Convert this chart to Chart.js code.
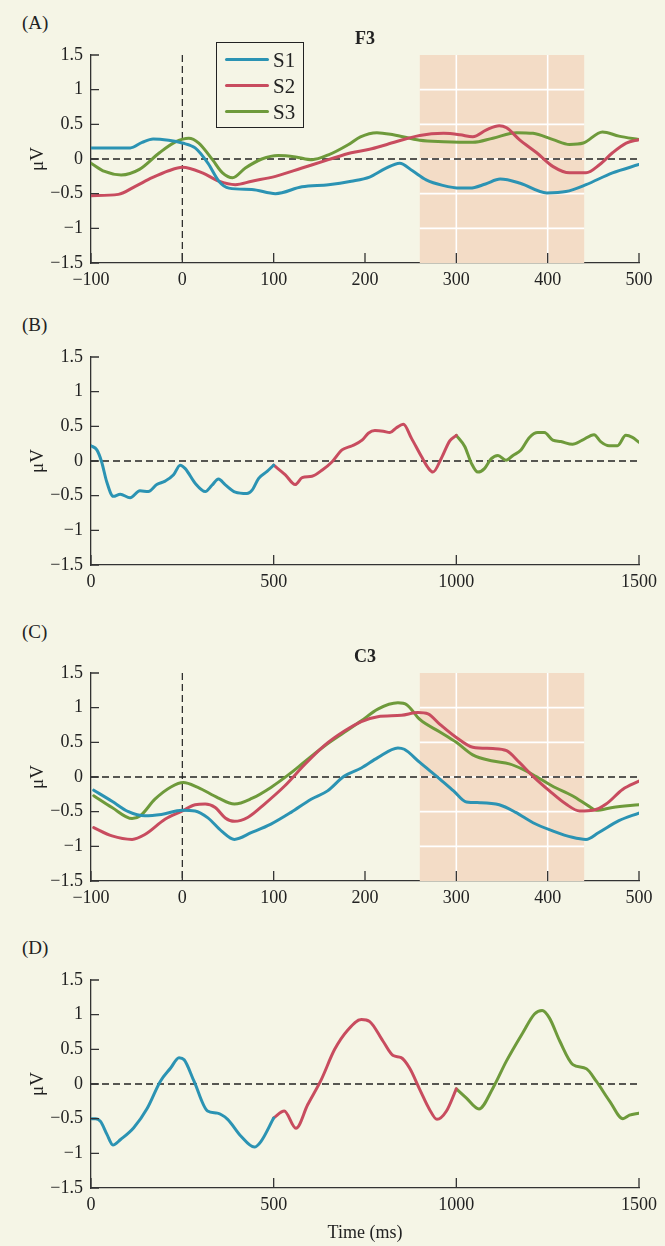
<!DOCTYPE html>
<html>
<head>
<meta charset="utf-8">
<script src="https://cdn.jsdelivr.net/npm/chart.js@4.4.1/dist/chart.umd.min.js"></script>
<style>
  body { margin: 0; background: #f5f5e6; font-family: 'Liberation Serif', 'DejaVu Serif', serif; color: #222; }
  #page { position: relative; width: 665px; height: 1246px; overflow: hidden; }
  #page canvas { position: absolute; left: 0; }
  .tag { position: absolute; left: 22px; font-size: 19px; line-height: 22px; }
  #legendA { position: absolute; left: 216px; top: 42px; width: 88px; height: 86px;
             border: 1.3px solid #222; box-sizing: border-box; z-index: 2; }
  #legendA .row { position: absolute; left: 0; width: 100%; height: 24px; }
  #legendA .swatch { position: absolute; left: 8px; top: 10px; width: 44px; height: 3px; border-radius: 2px; }
  #legendA .lbl { position: absolute; left: 56px; top: 0; font-size: 21px; line-height: 24px; }
</style>
</head>
<body>
<div id="page">
  <div class="tag" style="top:12px">(A)</div>
  <div class="tag" style="top:314px">(B)</div>
  <div class="tag" style="top:621px">(C)</div>
  <div class="tag" style="top:937px">(D)</div>
  <div id="legendA"></div>
  <canvas id="chartA" width="665" height="300" style="top:0px"></canvas>
  <canvas id="chartB" width="665" height="300" style="top:300px"></canvas>
  <canvas id="chartC" width="665" height="310" style="top:600px"></canvas>
  <canvas id="chartD" width="665" height="336" style="top:910px"></canvas>
</div>
<script>
// (A) F3, -100..500 ms
const aT1 = [-100, -57, -44, -32, -15, 0, 14, 28, 40, 51, 76, 102, 131, 160, 185, 205, 222, 238, 252, 267, 285, 304, 315, 332, 348, 370, 399, 420, 442, 471, 500];
const aS1 = [0.16, 0.16, 0.24, 0.29, 0.27, 0.23, 0.16, -0.06, -0.32, -0.42, -0.44, -0.50, -0.40, -0.37, -0.32, -0.26, -0.14, -0.06, -0.17, -0.30, -0.38, -0.42, -0.42, -0.36, -0.29, -0.35, -0.49, -0.47, -0.37, -0.20, -0.08];
const aT2 = [-100, -70, -51, -33, -15, 0, 22, 40, 58, 76, 102, 131, 160, 185, 205, 224, 260, 286, 304, 318, 333, 347, 355, 369, 388, 406, 424, 442, 457, 471, 486, 500];
const aS2 = [-0.53, -0.51, -0.39, -0.27, -0.17, -0.12, -0.20, -0.32, -0.37, -0.32, -0.25, -0.13, -0.01, 0.09, 0.14, 0.21, 0.34, 0.37, 0.35, 0.32, 0.42, 0.48, 0.45, 0.28, 0.09, -0.11, -0.20, -0.20, -0.08, 0.09, 0.23, 0.28];
const aT3 = [-100, -85, -67, -47, -25, -7, 7, 18, 33, 44, 55, 69, 87, 105, 124, 142, 160, 182, 195, 213, 231, 260, 286, 318, 340, 366, 384, 406, 424, 439, 460, 478, 500];
const aS3 = [-0.06, -0.18, -0.23, -0.15, 0.09, 0.25, 0.30, 0.23, -0.01, -0.20, -0.27, -0.13, 0.00, 0.05, 0.03, -0.01, 0.06, 0.21, 0.32, 0.38, 0.35, 0.27, 0.25, 0.24, 0.30, 0.38, 0.37, 0.28, 0.21, 0.23, 0.39, 0.33, 0.28];

// (B) F3 concatenated, 0..1500 ms
const bT1 = [0, 16, 29, 43, 61, 80, 107, 134, 157, 180, 203, 226, 244, 258, 285, 313, 331, 349, 367, 395, 427, 441, 459, 482, 500];
const bS1 = [0.22, 0.16, -0.01, -0.30, -0.51, -0.48, -0.53, -0.43, -0.44, -0.34, -0.29, -0.20, -0.06, -0.11, -0.32, -0.44, -0.35, -0.26, -0.34, -0.45, -0.47, -0.42, -0.25, -0.15, -0.06];
const bT2 = [500, 532, 559, 578, 605, 633, 660, 687, 715, 742, 759, 777, 800, 818, 836, 855, 877, 905, 923, 936, 959, 982, 1000];
const bS2 = [-0.06, -0.20, -0.34, -0.24, -0.22, -0.13, -0.01, 0.16, 0.22, 0.30, 0.40, 0.44, 0.43, 0.41, 0.48, 0.53, 0.33, 0.06, -0.10, -0.16, 0.04, 0.29, 0.37];
const bT3 = [1000, 1023, 1041, 1059, 1077, 1095, 1114, 1136, 1155, 1177, 1200, 1223, 1241, 1264, 1286, 1318, 1345, 1377, 1395, 1418, 1441, 1464, 1482, 1500];
const bS3 = [0.37, 0.21, -0.03, -0.16, -0.11, 0.03, 0.08, 0.01, 0.08, 0.16, 0.34, 0.41, 0.41, 0.30, 0.28, 0.24, 0.30, 0.38, 0.28, 0.22, 0.22, 0.37, 0.34, 0.27];

// (C) C3, -100..500 ms
const cT1 = [-97, -77, -59, -41, -23, 0, 14, 28, 43, 57, 76, 97, 119, 141, 159, 177, 196, 214, 236, 243, 260, 282, 297, 311, 326, 347, 365, 384, 406, 427, 442, 456, 478, 500];
const cS1 = [-0.19, -0.35, -0.50, -0.56, -0.54, -0.48, -0.49, -0.59, -0.78, -0.90, -0.80, -0.68, -0.51, -0.32, -0.20, 0.01, 0.13, 0.28, 0.42, 0.40, 0.21, -0.03, -0.20, -0.36, -0.37, -0.40, -0.51, -0.66, -0.78, -0.87, -0.90, -0.80, -0.63, -0.52];
const cT2 = [-97, -77, -55, -41, -19, 0, 14, 25, 36, 47, 57, 72, 90, 112, 134, 156, 177, 196, 214, 240, 258, 269, 282, 300, 318, 340, 355, 369, 384, 402, 420, 435, 450, 464, 482, 500];
const cS2 = [-0.73, -0.85, -0.90, -0.83, -0.61, -0.49, -0.40, -0.39, -0.44, -0.59, -0.64, -0.58, -0.39, -0.13, 0.18, 0.46, 0.66, 0.80, 0.87, 0.89, 0.93, 0.91, 0.76, 0.57, 0.43, 0.41, 0.38, 0.21, 0.01, -0.20, -0.39, -0.49, -0.48, -0.39, -0.18, -0.06];
const cT3 = [-97, -77, -55, -46, -30, -12, 1, 17, 39, 57, 76, 97, 116, 134, 156, 177, 196, 214, 236, 246, 260, 282, 300, 318, 340, 358, 373, 387, 405, 427, 445, 453, 471, 500];
const cS3 = [-0.27, -0.44, -0.60, -0.56, -0.32, -0.14, -0.08, -0.15, -0.30, -0.39, -0.31, -0.15, 0.03, 0.22, 0.45, 0.64, 0.81, 0.98, 1.07, 1.04, 0.83, 0.65, 0.50, 0.32, 0.23, 0.19, 0.11, 0.01, -0.13, -0.27, -0.42, -0.48, -0.44, -0.40];

// (D) C3 concatenated, 0..1500 ms
const dT1 = [0, 12, 26, 44, 60, 81, 117, 154, 190, 218, 241, 255, 282, 319, 346, 374, 410, 447, 465, 500];
const dS1 = [-0.50, -0.50, -0.54, -0.73, -0.88, -0.80, -0.63, -0.35, 0.04, 0.23, 0.38, 0.35, 0.04, -0.39, -0.42, -0.51, -0.75, -0.91, -0.83, -0.49];
const dT2 = [500, 529, 561, 593, 630, 667, 703, 740, 763, 799, 827, 849, 872, 900, 927, 947, 973, 1000];
const dS2 = [-0.49, -0.39, -0.64, -0.30, 0.06, 0.50, 0.78, 0.93, 0.90, 0.62, 0.41, 0.38, 0.23, -0.08, -0.37, -0.51, -0.39, -0.07];
const dT3 = [1000, 1027, 1062, 1100, 1137, 1182, 1214, 1235, 1255, 1283, 1319, 1356, 1383, 1420, 1456, 1474, 1500];
const dS3 = [-0.07, -0.20, -0.36, -0.06, 0.33, 0.74, 1.01, 1.06, 0.95, 0.62, 0.28, 0.22, 0.04, -0.25, -0.50, -0.45, -0.42];

const seriesNames = ['S1', 'S2', 'S3'];
const yTicks = [-1.5, -1, -0.5, 0, 0.5, 1, 1.5];
const windowMs = [260, 440];

const colS = { S1: '#2b93b3', S2: '#c84c5f', S3: '#6e9a3b' };
const ink = '#222';
const shadeCol = '#f3dcc6';
const fontFam = "'Liberation Serif', 'DejaVu Serif', serif";

Chart.defaults.font.family = fontFam;
Chart.defaults.color = ink;

const zip = (t, v) => t.map((x, i) => ({ x: x, y: v[i] }));
const minus = v => (v < 0 ? '\u2212' + Math.abs(v) : String(v));

// shaded window, zero line, onset line, inward ticks
const decor = {
  id: 'decor',
  beforeDatasetsDraw(chart, args, opts) {
    const { ctx, chartArea: a, scales: { x, y } } = chart;
    ctx.save();
    if (opts.shade) {
      const x0 = x.getPixelForValue(opts.shade[0]);
      const x1 = x.getPixelForValue(opts.shade[1]);
      ctx.fillStyle = shadeCol;
      ctx.fillRect(x0, a.top, x1 - x0, a.bottom - a.top);
      ctx.strokeStyle = '#ffffff';
      ctx.lineWidth = 1.6;
      ctx.beginPath();
      x.ticks.forEach(t => {
        const px = x.getPixelForValue(t.value);
        if (px > x0 + 1 && px < x1 - 1) { ctx.moveTo(px, a.top); ctx.lineTo(px, a.bottom); }
      });
      y.ticks.forEach(t => {
        const py = y.getPixelForValue(t.value);
        if (py > a.top + 1 && py < a.bottom - 1) { ctx.moveTo(x0, py); ctx.lineTo(x1, py); }
      });
      ctx.stroke();
    }
    ctx.strokeStyle = ink;
    ctx.lineWidth = 1.4;
    ctx.setLineDash([7, 4]);
    const y0 = y.getPixelForValue(0);
    ctx.beginPath();
    ctx.moveTo(a.left, y0);
    ctx.lineTo(a.right, y0);
    ctx.stroke();
    if (opts.onset) {
      const px = x.getPixelForValue(0);
      ctx.lineWidth = 1.2;
      ctx.beginPath();
      ctx.moveTo(px, a.top);
      ctx.lineTo(px, a.bottom);
      ctx.stroke();
    }
    ctx.restore();
  },
  afterDraw(chart) {
    const { ctx, chartArea: a, scales: { x, y } } = chart;
    ctx.save();
    ctx.strokeStyle = '#333';
    ctx.lineWidth = 1.3;
    ctx.beginPath();
    y.ticks.forEach(t => {
      const py = y.getPixelForValue(t.value);
      ctx.moveTo(a.left, py);
      ctx.lineTo(a.left + 8, py);
    });
    x.ticks.forEach(t => {
      const px = x.getPixelForValue(t.value);
      ctx.moveTo(px, a.bottom);
      ctx.lineTo(px, a.bottom - 10);
    });
    ctx.stroke();
    ctx.restore();
  }
};
Chart.register(decor);

function makePanel(id, cfg) {
  return new Chart(document.getElementById(id), {
    type: 'line',
    data: {
      datasets: cfg.series.map(s => ({
        label: s.name,
        data: zip(s.t, s.v),
        borderColor: colS[s.name],
        backgroundColor: colS[s.name],
        borderWidth: 3,
        pointRadius: 0,
        cubicInterpolationMode: 'monotone',
        borderCapStyle: 'round',
        borderJoinStyle: 'round',
        fill: false
      }))
    },
    options: {
      responsive: false,
      animation: false,
      events: [],
      layout: { padding: { left: 0, right: 26, top: cfg.padTop, bottom: 0 } },
      plugins: {
        legend: { display: false },
        tooltip: { enabled: false },
        title: {
          display: !!cfg.title,
          text: cfg.title || '',
          fullSize: false,
          font: { size: 18, weight: 'bold' },
          color: ink,
          padding: { top: 0, bottom: 5.2 }
        },
        decor: { shade: cfg.shade, onset: cfg.onset }
      },
      scales: {
        x: {
          type: 'linear',
          min: cfg.xMin,
          max: cfg.xMax,
          grid: { drawOnChartArea: false, drawTicks: false },
          border: { color: '#333', width: 1.3 },
          ticks: {
            stepSize: cfg.xStep,
            padding: 6,
            maxRotation: 0,
            autoSkip: false,
            font: { size: 18 },
            color: ink,
            callback: v => minus(v)
          },
          title: {
            display: !!cfg.xTitle,
            text: cfg.xTitle || '',
            font: { size: 18 },
            color: ink,
            padding: { top: 0, bottom: 2 }
          },
          afterFit(s) { s.height = cfg.xHeight; }
        },
        y: {
          min: -1.5,
          max: 1.5,
          grid: { drawOnChartArea: false, drawTicks: false },
          border: { color: '#333', width: 1.3 },
          afterBuildTicks(s) { s.ticks = yTicks.map(v => ({ value: v })); },
          ticks: {
            padding: 8,
            font: { size: 18 },
            color: ink,
            callback: v => minus(v)
          },
          title: {
            display: true,
            text: 'μV',
            font: { size: 19 },
            color: ink,
            padding: { top: 27, bottom: 0 }
          },
          afterFit(s) { s.width = 91; }
        }
      }
    }
  });
}

const chartA = makePanel('chartA', {
  title: 'F3', padTop: 28.2, xHeight: 37, xMin: -100, xMax: 500, xStep: 100,
  shade: windowMs, onset: true,
  series: [
    { name: seriesNames[0], t: aT1, v: aS1 },
    { name: seriesNames[1], t: aT2, v: aS2 },
    { name: seriesNames[2], t: aT3, v: aS3 }
  ]
});

makePanel('chartB', {
  padTop: 57, xHeight: 35, xMin: 0, xMax: 1500, xStep: 500,
  series: [
    { name: seriesNames[0], t: bT1, v: bS1 },
    { name: seriesNames[1], t: bT2, v: bS2 },
    { name: seriesNames[2], t: bT3, v: bS3 }
  ]
});

makePanel('chartC', {
  title: 'C3', padTop: 46.2, xHeight: 29, xMin: -100, xMax: 500, xStep: 100,
  shade: windowMs, onset: true,
  series: [
    { name: seriesNames[0], t: cT1, v: cS1 },
    { name: seriesNames[1], t: cT2, v: cS2 },
    { name: seriesNames[2], t: cT3, v: cS3 }
  ]
});

makePanel('chartD', {
  padTop: 70, xHeight: 58, xMin: 0, xMax: 1500, xStep: 500, xTitle: 'Time (ms)',
  series: [
    { name: seriesNames[0], t: dT1, v: dS1 },
    { name: seriesNames[1], t: dT2, v: dS2 },
    { name: seriesNames[2], t: dT3, v: dS3 }
  ]
});

// legend box for panel A, built from the chart's datasets
const legendA = document.getElementById('legendA');
chartA.data.datasets.forEach((ds, i) => {
  const row = document.createElement('div');
  row.className = 'row';
  row.style.top = (5 + i * 26) + 'px';
  row.innerHTML = '<span class="swatch" style="background:' + ds.borderColor + '"></span>' +
                  '<span class="lbl">' + ds.label + '</span>';
  legendA.appendChild(row);
});
</script>
</body>
</html>
